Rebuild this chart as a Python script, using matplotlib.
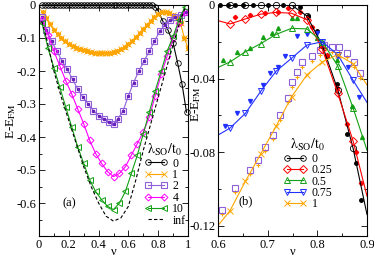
import numpy as np
import matplotlib
matplotlib.use("Agg")
import matplotlib.pyplot as plt
from matplotlib.ticker import MultipleLocator

plt.rcParams['font.family'] = ['Liberation Serif', 'DejaVu Serif']
plt.rcParams['mathtext.fontset'] = 'stix'
plt.rcParams['font.size'] = 9

# ---------------- panel (a) data ----------------
nu_a0 = [0.02, 0.04, 0.06, 0.08, 0.10, 0.12, 0.14, 0.16, 0.18, 0.20, 0.22, 0.24, 0.26,
         0.28, 0.30, 0.32, 0.34, 0.36, 0.38, 0.40, 0.42, 0.44, 0.46, 0.48, 0.50, 0.52,
         0.54, 0.56, 0.58, 0.60, 0.62, 0.64, 0.66, 0.68, 0.70, 0.72, 0.74, 0.76,
         0.78, 0.80, 0.83, 0.865, 0.90, 0.93, 0.96, 0.99]
e_a0 = [0, 0, 0, 0, 0, 0, 0, 0, 0, 0, 0, 0, 0,
        0, 0, 0, 0, 0, 0, 0, 0, 0, 0, 0, 0, 0,
        0, 0, 0, 0, 0, 0, 0, 0, 0, 0, 0, 0,
        -0.005, -0.018, -0.048, -0.075, -0.115, -0.175, -0.24, -0.325]

nu_a1 = [0.025, 0.05, 0.075, 0.10, 0.125, 0.15, 0.175, 0.20, 0.225, 0.25, 0.275, 0.30,
         0.325, 0.35, 0.375, 0.40, 0.425, 0.45, 0.475, 0.50, 0.525, 0.55, 0.575, 0.60,
         0.625, 0.65, 0.675, 0.70, 0.725, 0.75, 0.775, 0.80, 0.825, 0.85, 0.875, 0.90,
         0.925, 0.95, 0.975, 1.0]
e_a1 = [-0.02, -0.04, -0.058, -0.075, -0.088, -0.10, -0.11, -0.118, -0.124, -0.13, -0.134,
        -0.137, -0.14, -0.142, -0.144, -0.145, -0.145, -0.145, -0.144, -0.142, -0.138,
        -0.133, -0.126, -0.118, -0.108, -0.097, -0.085, -0.073, -0.06, -0.048, -0.037,
        -0.028, -0.022, -0.02, -0.025, -0.03, -0.04, -0.055, -0.1, -0.13]

nu_a2 = [0.02, 0.05, 0.085, 0.12, 0.155, 0.19, 0.225, 0.26, 0.295, 0.33, 0.365, 0.40,
         0.435, 0.47, 0.50, 0.53, 0.565, 0.60, 0.635, 0.67, 0.705, 0.74, 0.775, 0.81,
         0.845, 0.88, 0.915, 0.95, 0.985]
e_a2 = [-0.035, -0.075, -0.11, -0.14, -0.17, -0.195, -0.225, -0.255, -0.28, -0.30, -0.32,
        -0.335, -0.345, -0.355, -0.36, -0.345, -0.32, -0.275, -0.235, -0.2, -0.17, -0.14,
        -0.11, -0.08, -0.06, -0.045, -0.035, -0.03, -0.02]

nu_a4 = [0.02, 0.06, 0.10, 0.14, 0.18, 0.22, 0.26, 0.30, 0.34, 0.38, 0.42, 0.46, 0.50,
         0.54, 0.58, 0.62, 0.66, 0.70, 0.74, 0.78, 0.82, 0.86, 0.90, 0.94, 0.98]
e_a4 = [-0.045, -0.09, -0.14, -0.185, -0.23, -0.27, -0.315, -0.36, -0.41, -0.45, -0.48,
        -0.505, -0.52, -0.51, -0.49, -0.455, -0.42, -0.385, -0.34, -0.275, -0.21, -0.155,
        -0.10, -0.055, -0.02]

nu_a10 = [0.02, 0.06, 0.10, 0.14, 0.18, 0.22, 0.26, 0.30, 0.34, 0.38, 0.42, 0.46, 0.50,
          0.54, 0.58, 0.62, 0.66, 0.70, 0.74, 0.78, 0.82, 0.86, 0.90, 0.94, 0.98]
e_a10 = [-0.055, -0.13, -0.19, -0.25, -0.31, -0.37, -0.43, -0.48, -0.53, -0.565, -0.59,
         -0.61, -0.62, -0.60, -0.565, -0.51, -0.455, -0.39, -0.325, -0.26, -0.20, -0.14,
         -0.095, -0.045, -0.005]

nu_inf = [0.02, 0.05, 0.10, 0.15, 0.20, 0.25, 0.30, 0.35, 0.40, 0.45, 0.50,
          0.55, 0.60, 0.65, 0.70, 0.75, 0.80, 0.85, 0.90, 0.95, 0.98]
e_inf = [-0.05, -0.10, -0.20, -0.28, -0.35, -0.42, -0.49, -0.55, -0.60, -0.64, -0.655,
         -0.645, -0.61, -0.53, -0.44, -0.36, -0.28, -0.20, -0.12, -0.045, -0.01]

# ---------------- panel (b) data ----------------
# open markers + line (first / last points sit on the frame edge)
nu_b = [0.60, 0.624, 0.655, 0.686, 0.717, 0.748, 0.779, 0.81, 0.841, 0.872, 0.90]
e_b0 = [0.0, 0.0, 0.0, 0.0, 0.0, 0.0, -0.006, -0.022, -0.046, -0.078, -0.114]
e_b25 = [-0.0085, -0.0103, -0.0076, -0.005, -0.004, -0.0045, -0.008, -0.024, -0.048, -0.074, -0.104]
e_b50 = [-0.034, -0.031, -0.0255, -0.021, -0.016, -0.0127, -0.013, -0.02, -0.033, -0.056, -0.079]
e_b75 = [-0.0708, -0.067, -0.059, -0.047, -0.036, -0.029, -0.0218, -0.020, -0.027, -0.041, -0.053]
e_b100 = [-0.12, -0.112, -0.096, -0.081, -0.066, -0.050, -0.038, -0.031, -0.027, -0.032, -0.0435]

# small filled markers
nu_f0 = [0.605, 0.62, 0.635, 0.65, 0.67, 0.70, 0.73, 0.765, 0.782, 0.80, 0.82, 0.84, 0.86, 0.877, 0.887]
e_f0 = [0, 0, 0, 0, 0, 0, 0, -0.001, -0.006, -0.014, -0.028, -0.043, -0.07, -0.086, -0.106]
nu_f25 = [0.634, 0.664, 0.694, 0.72, 0.74, 0.765, 0.79, 0.82, 0.84, 0.86, 0.878, 0.888]
e_f25 = [-0.0065, -0.0054, -0.0045, -0.004, -0.0018, -0.0037, -0.012, -0.027, -0.045, -0.065, -0.08, -0.097]
nu_f50 = [0.61, 0.638, 0.664, 0.69, 0.708, 0.72, 0.749, 0.76, 0.80, 0.84, 0.87, 0.89]
e_f50 = [-0.03, -0.0255, -0.0235, -0.0173, -0.015, -0.0127, -0.0072, -0.007, -0.018, -0.03, -0.055, -0.072]
nu_f75 = [0.615, 0.638, 0.664, 0.69, 0.705, 0.72, 0.735, 0.76, 0.78, 0.80, 0.84, 0.862, 0.883]
e_f75 = [-0.066, -0.059, -0.0525, -0.0435, -0.037, -0.0335, -0.028, -0.017, -0.016, -0.0155, -0.028, -0.034, -0.05]
nu_sq = [0.608, 0.635, 0.665, 0.68, 0.695, 0.71, 0.725, 0.74, 0.749, 0.76, 0.77, 0.79,
         0.805, 0.814, 0.83, 0.843, 0.86, 0.874, 0.885]
e_sq = [-0.1116, -0.0998, -0.0898, -0.0844, -0.0771, -0.0707, -0.06, -0.0508, -0.042,
        -0.0365, -0.031, -0.028, -0.0245, -0.022, -0.023, -0.023, -0.026, -0.031, -0.037]
e_plus = [-0.114, -0.102, -0.092, -0.087, -0.0795, -0.073, -0.0625, -0.053, -0.0445,
          -0.039, -0.0335, -0.0305, -0.027, -0.0245, -0.0255, -0.0255, -0.0285, -0.0335, -0.0395]

labels_a = ['0', '1', '2', '4', '10', 'inf']
labels_b = ['0', '0.25', '0.5', '0.75', '1']

ORANGE = '#FFA500'
PURPLE = '#9060D8'
PURPLE_D = '#6A21BC'
MAGENTA = '#FF00FF'
GREEN = '#14A014'
RED = '#FF0000'
BLUE = '#2030FF'

fig = plt.figure(figsize=(3.74, 2.58), dpi=100)
ax1 = fig.add_axes([39/374, 22/258, 149/374, 231/258])
ax2 = fig.add_axes([218/374, 22/258, 149/374, 231/258])

lw = 0.8
ms = 4

# panel (a)
ax1.plot(nu_a0, e_a0, '-', color='k', lw=lw, marker='o', mfc='none', ms=ms, mew=0.6,
         label=labels_a[0], clip_on=False)
ax1.plot(nu_a1, e_a1, '-', color=ORANGE, lw=lw, marker='x', ms=ms, mew=0.6, label=labels_a[1])
ax1.plot(nu_a1, e_a1, ls='none', color=ORANGE, marker='*', ms=3.5)
ax1.plot(nu_a2, e_a2, '-', color=PURPLE, lw=lw, marker='s', mfc='none', ms=ms + 0.5, mew=0.8,
         label=labels_a[2])
ax1.plot(nu_a2, e_a2, ls='none', color=PURPLE_D, marker='s', ms=2)
ax1.plot(nu_a4, e_a4, '-', color=MAGENTA, lw=lw, marker='D', mfc='none', ms=ms - 0.5, mew=0.7,
         label=labels_a[3])
ax1.plot(nu_a10, e_a10, '-', color=GREEN, lw=lw, marker='<', mfc='none', ms=ms, mew=0.7,
         label=labels_a[4])
ax1.plot(nu_inf, e_inf, '--', color='k', lw=lw, dashes=(3, 2), label=labels_a[5])

ax1.set_xlim(0, 1)
ax1.set_ylim(-0.7, 0)
ax1.xaxis.set_minor_locator(MultipleLocator(0.1))
ax1.yaxis.set_minor_locator(MultipleLocator(0.05))
ax1.set_xticks([0, 0.2, 0.4, 0.6, 0.8, 1.0])
ax1.set_xticklabels(['0', '0.2', '0.4', '0.6', '0.8', '1'])
ax1.set_yticks([0, -0.1, -0.2, -0.3, -0.4, -0.5, -0.6])
ax1.set_yticklabels(['0', '-0.1', '-0.2', '-0.3', '-0.4', '-0.5', '-0.6'])
ax1.set_xlabel('ν', fontsize=9, va='center')
ax1.xaxis.set_label_coords(0.5, -0.068)
ax1.set_ylabel(r'E-E$_{\rm FM}$', fontsize=9.5, va='center')
ax1.yaxis.set_label_coords(-0.19, 0.5)
ax1.text(0.155, -0.6, '(a)', fontsize=9, va='center')
leg1 = ax1.legend(title=r'$\rm \lambda_{SO}/t_0$', loc='lower right', frameon=False,
                  numpoints=2, handlelength=2.0, handletextpad=0.4, labelspacing=-0.05,
                  borderaxespad=0.2, fontsize=8.5, title_fontsize=10,
                  bbox_to_anchor=(1.03, 0.01))

# panel (b)
edge = slice(1, -1)
ax2.plot(nu_f0, e_f0, ls='none', marker='o', color='k', ms=2.5, clip_on=False)
ax2.plot(nu_f25, e_f25, ls='none', marker='D', color=RED, ms=2.2, clip_on=False)
ax2.plot(nu_f50, e_f50, ls='none', marker='^', color=GREEN, ms=2.8)
ax2.plot(nu_f75, e_f75, ls='none', marker='v', color=BLUE, ms=2.8)
ax2.plot(nu_sq, e_plus, ls='none', marker='+', color=ORANGE, ms=3.5, mew=0.8)
ax2.plot(nu_sq, e_sq, ls='none', marker='s', mfc='none', color=PURPLE, ms=ms, mew=0.8)

ax2.plot(nu_b, e_b0, '-', color='k', lw=lw)
ax2.plot(nu_b[1:-1], e_b0[1:-1], ls='none', marker='o', mfc='none', color='k', ms=ms + 0.5,
         mew=0.6, clip_on=False)
ax2.plot([], [], '-', color='k', lw=lw, marker='o', mfc='none', ms=ms, mew=0.6, label=labels_b[0])
series_b = [(e_b25, RED, 'D', labels_b[1]), (e_b50, GREEN, '^', labels_b[2]),
            (e_b75, BLUE, 'v', labels_b[3]), (e_b100, ORANGE, 'x', labels_b[4])]
for e, c, m, lab in series_b:
    ax2.plot(nu_b, e, '-', color=c, lw=lw, marker=m, mfc='none', ms=ms + 0.5, mew=0.7,
             markevery=edge, label=lab)

ax2.set_xlim(0.6, 0.9)
ax2.set_ylim(-0.1257, 0)
ax2.xaxis.set_minor_locator(MultipleLocator(0.05))
ax2.yaxis.set_minor_locator(MultipleLocator(0.02))
ax2.set_xticks([0.6, 0.7, 0.8, 0.9])
ax2.set_xticklabels(['0.6', '0.7', '0.8', '0.9'])
ax2.set_yticks([0, -0.04, -0.08, -0.12])
ax2.set_yticklabels(['0', '-0.04', '-0.08', '-0.12'])
ax2.set_xlabel('ν', fontsize=9, va='center')
ax2.xaxis.set_label_coords(0.5, -0.068)
ax2.set_ylabel(r'E-E$_{\rm FM}$', fontsize=9.5, va='center')
ax2.yaxis.set_label_coords(-0.15, 0.57)
ax2.text(0.641, -0.107, '(b)', fontsize=9, va='center')
leg2 = ax2.legend(title=r'$\rm \lambda_{SO}/t_0$', loc='lower left', frameon=False,
                  numpoints=2, handlelength=2.0, handletextpad=0.4, labelspacing=-0.05,
                  borderaxespad=0.2, fontsize=8.5, title_fontsize=10,
                  bbox_to_anchor=(0.39, 0.08))

for ax in (ax1, ax2):
    ax.tick_params(which='both', direction='in', top=True, right=True, labelsize=9, pad=2)
    ax.tick_params(which='major', length=4, width=0.6)
    ax.tick_params(which='minor', length=2, width=0.6)
    for s in ax.spines.values():
        s.set_linewidth(0.8)

fig.savefig('out.png', dpi=100)
